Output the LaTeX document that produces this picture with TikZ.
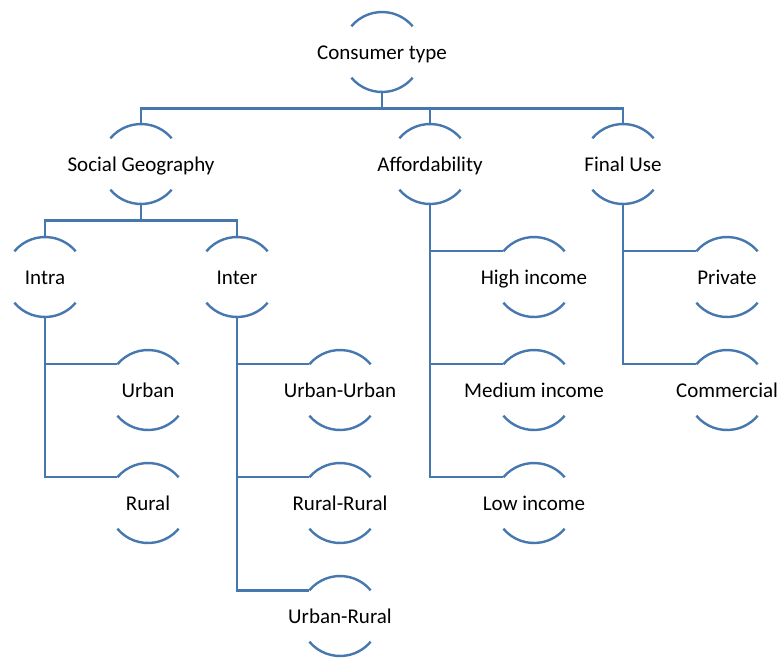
\documentclass[tikz,border=0pt]{standalone}
\usepackage{fontspec}
\setmainfont{Carlito}
\usepackage{tikz}
\usetikzlibrary{calc}
\definecolor{arcblue}{RGB}{70,120,175}

% one item: two arcs round a label
\newcommand{\arcnode}[3]{%
  \coordinate (#1-c) at (#2);
  \node[lbl] (#1) at ($(#1-c)+(0,-7)$) {#3};
  \draw[link] (#1-c) ++(140:40pt) arc[start angle=140,end angle=40,radius=40pt];
  \draw[link] (#1-c) ++(220:40pt) arc[start angle=220,end angle=320,radius=40pt];
  \coordinate (#1-top) at ($(#1-c)+(0,40)$);
  \coordinate (#1-bot) at ($(#1-c)+(0,-40)$);
  \coordinate (#1-lft) at ($(#1-c)+(140:40pt)$);
}

\begin{document}
\begin{tikzpicture}[x=1pt,y=1pt,
    lbl/.style={anchor=base,inner sep=0pt,font=\fontsize{21}{25}\selectfont},
    link/.style={draw=arcblue,line width=2.4pt}]
        \useasboundingbox (0,0) rectangle (779,-657);
        % Root
        \arcnode{ct}{382,-52}{Consumer type}
        % Level 1
        \arcnode{sg}{141,-164}{Social Geography}
        \arcnode{af}{430,-164}{Affordability}
        \arcnode{fu}{623,-164}{Final Use}
        % Social geography
        \arcnode{ia}{45,-277}{Intra}
        \arcnode{ie}{237,-277}{Inter}
        \arcnode{ub}{148,-390}{Urban}
        \arcnode{rl}{148,-503}{Rural}
        \arcnode{uu}{340,-390}{Urban-Urban}
        \arcnode{rr}{340,-503}{Rural-Rural}
        \arcnode{ur}{340,-616}{Urban-Rural}
        % Affordability
        \arcnode{hi}{534,-277}{High income}
        \arcnode{mi}{534,-390}{Medium income}
        \arcnode{li}{534,-503}{Low income}
        % Final use
        \arcnode{pr}{727,-277}{Private}
        \arcnode{co}{727,-390}{Commercial}
        % Connectors
        \draw[link] (ct-bot) -- ++(0,-16.5) -| (sg-top);
        \draw[link] (ct-bot) -- ++(0,-16.5) -| (af-top);
        \draw[link] (ct-bot) -- ++(0,-16.5) -| (fu-top);
        \draw[link] (sg-bot) -- ++(0,-16.5) -| (ia-top);
        \draw[link] (sg-bot) -- ++(0,-16.5) -| (ie-top);
        \draw[link] (ia-bot) |- (ub-lft);
        \draw[link] (ia-bot) |- (rl-lft);
        \draw[link] (ie-bot) |- (uu-lft);
        \draw[link] (ie-bot) |- (rr-lft);
        \draw[link] (ie-bot) |- (ur-lft);
        \draw[link] (af-bot) |- (hi-lft);
        \draw[link] (af-bot) |- (mi-lft);
        \draw[link] (af-bot) |- (li-lft);
        \draw[link] (fu-bot) |- (pr-lft);
        \draw[link] (fu-bot) |- (co-lft);
    \end{tikzpicture}
\end{document}
